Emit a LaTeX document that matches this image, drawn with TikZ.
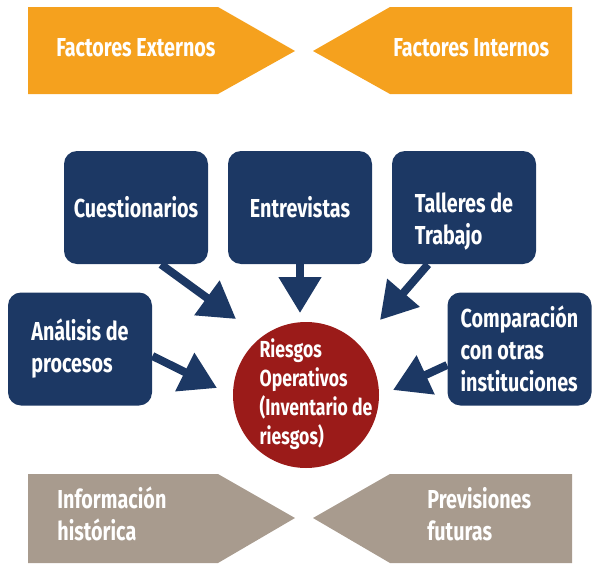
\documentclass[tikz,border=0pt]{standalone}
\usepackage{fontspec}
\usepackage{xcolor}
\usetikzlibrary{arrows.meta}
\usetikzlibrary{calc}
\newfontfamily\dinfont{Fira Sans}[FakeStretch=0.76]
\definecolor{naranja}{RGB}{245,161,30}
\definecolor{marino}{RGB}{28,56,100}
\definecolor{granate}{RGB}{155,27,25}
\definecolor{pardo}{RGB}{168,155,142}

\begin{document}
\begin{tikzpicture}[x=0.5pt,y=-0.5pt,
    etiqueta/.style={text=white,font=\dinfont\bfseries\fontsize{13}{16}\selectfont,align=left,inner sep=0pt},
    caja/.style={etiqueta,fill=marino,rounded corners=6.5pt,minimum width=72pt,minimum height=56.5pt},
    flecha/.style={marino,line width=4pt,-{Triangle[width=20.5pt,length=18pt]}}]
              \useasboundingbox (0,0) rectangle (600,573);
              \def\xa{28}
              \def\xb{218}
              \def\xc{295}

              \fill[naranja] (\xa,7) -- (\xb,7) -- (\xc,51) -- (\xb,94) -- (\xa,94) -- cycle;
              \fill[naranja] (600-\xa,7) -- (608-\xb,7) -- (608-\xc,51) -- (608-\xb,94) -- (600-\xa,94) -- cycle;
              \fill[pardo] (\xa,474) -- (\xb,474) -- (\xc,518) -- (\xb,563) -- (\xa,563) -- cycle;
              \fill[pardo] (600-\xa,474) -- (608-\xb,474) -- (608-\xc,518) -- (608-\xb,563) -- (600-\xa,563) -- cycle;
              \node[etiqueta,anchor=west] (externos) at (56,48) {Factores Externos};
              \node[etiqueta,anchor=west] (internos) at (393,48) {Factores Internos};
              \node[etiqueta,anchor=west] (historica) at (57,514) {Información\\histórica};
              \node[etiqueta,anchor=west] (futuras) at (427,514) {Previsiones\\futuras};

              \node[caja] (cuestionarios) at (136,207.5) {Cuestionarios};
              \node[caja] (entrevistas) at (300,207.5) {Entrevistas};
              \node[caja] (talleres) at (464,207.5) {};
              \node[etiqueta] (trabajo) at ($(talleres)+(0,14)$) {Talleres de\\Trabajo};
              \node[caja] (analisis) at (80,349) {Análisis de\\procesos};
              \node[caja] (comparacion) at (519.5,349) {Comparación\\con otras\\instituciones};

              \node[circle,fill=granate,minimum size=73pt,inner sep=0pt] (riesgos) at (306,395) {};
              \node[etiqueta,font=\dinfont\bfseries\fontsize{11.6}{14.5}\selectfont] (inventario)
              at ($(riesgos)+(10,-1)$) {Riesgos\\Operativos\\(Inventario de\\riesgos)};

              \coordinate (p1) at (236,319);
              \coordinate (p2) at (300,313);
              \coordinate (p3) at (380,320);
              \coordinate (p4) at (217,388);
              \coordinate (p5) at (393,390);
              \draw[flecha] ($(cuestionarios.south)+(25,0)$) -- (p1);
              \draw[flecha] (entrevistas.south) -- (p2);
              \draw[flecha] ($(talleres.south)+(-36,0)$) -- (p3);
              \draw[flecha] ($(analisis.east)+(0,7)$) -- (p4);
              \draw[flecha] ($(comparacion.west)+(0,16)$) -- (p5);
            \end{tikzpicture}
\end{document}
